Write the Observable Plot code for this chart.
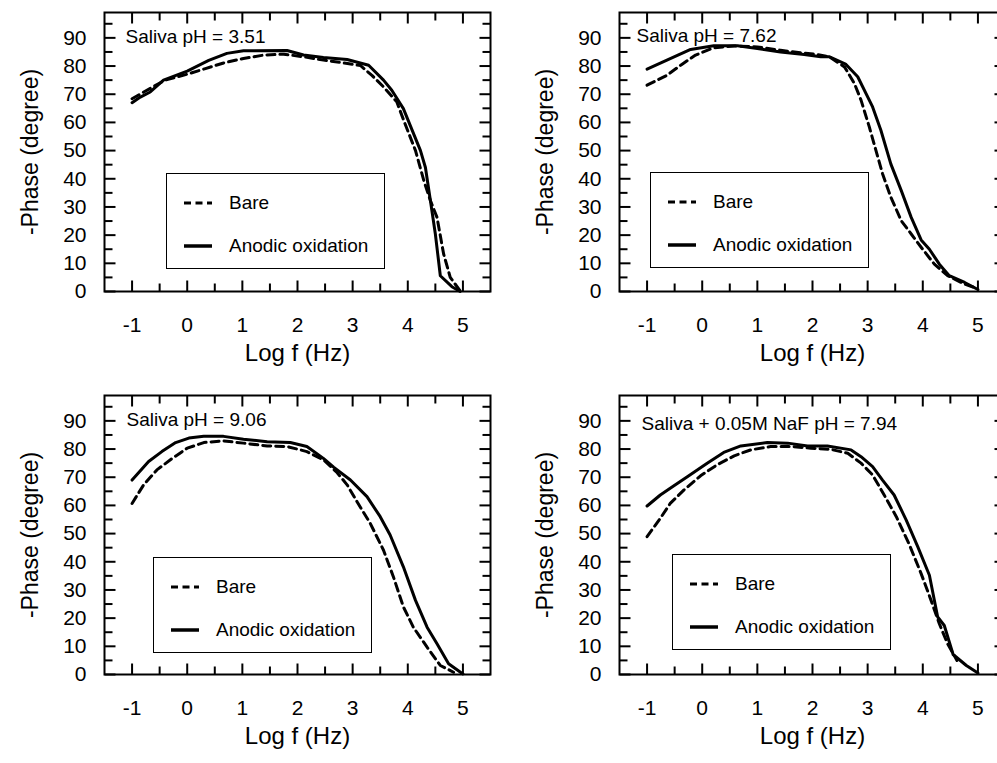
<!DOCTYPE html>
<html>
<head>
<meta charset="utf-8">
<script src="https://cdn.jsdelivr.net/npm/d3@7"></script>
<script src="https://cdn.jsdelivr.net/npm/@observablehq/plot@0.6"></script>
<style>
html, body { margin: 0; padding: 0; background: #fff; overflow: hidden; width: 997px; height: 763px; }
#root { position: relative; width: 997px; height: 763px; overflow: hidden; }
.panel { position: absolute; width: 515px; height: 382px; }
.panel svg { max-width: none !important; display: block; }
.legend { position: absolute; width: 219px; height: 96px; border: 1.5px solid #000; box-sizing: border-box; background: #fff;
  font-family: "Liberation Sans", Arial, sans-serif; font-size: 19px; color: #000; }
.legend .row { position: absolute; left: 0; height: 0; }
.legend .row svg { position: absolute; left: 17px; top: -4px; }
.legend .row span { position: absolute; left: 62px; top: -11px; white-space: nowrap; line-height: 22px; }
</style>
</head>
<body>
<div id="root"></div>
<script>
// ---- data ----
const xMajor = [-1, 0, 1, 2, 3, 4, 5];
const xMinor = [-0.5, 0.5, 1.5, 2.5, 3.5, 4.5];
const yMajor = [0, 10, 20, 30, 40, 50, 60, 70, 80, 90];
const yMinor = [5, 15, 25, 35, 45, 55, 65, 75, 85, 95];
const seriesNames = ["Bare", "Anodic oxidation"];
const panelTitles = ["Saliva pH = 3.51", "Saliva pH = 7.62", "Saliva pH = 9.06", "Saliva + 0.05M NaF pH = 7.94"];
const xTitle = "Log f (Hz)";
const yTitle = "-Phase (degree)";

// [log f, -phase]
const bare351 = [[-1,68.4],[-0.64,72.4],[-0.4,75],[0,77.1],[0.33,79.1],[0.66,81.1],[1.02,82.7],[1.39,83.9],[1.75,84.2],[2.11,83.3],[2.47,82.1],[2.84,81.1],[3.14,80.2],[3.35,76.7],[3.56,72.6],[3.8,67.3],[3.95,59.5],[4.14,50],[4.29,39.4],[4.41,32.3],[4.53,26.3],[4.65,13.3],[4.77,5],[4.95,0.2]];
const anodic351 = [[-1,67],[-0.85,69],[-0.67,70.8],[-0.43,75],[0,78.2],[0.39,82],[0.72,84.5],[1.02,85.4],[1.81,85.5],[2.11,83.9],[2.47,83],[2.9,82.3],[3.29,80.3],[3.56,75],[3.71,71.4],[3.92,64.9],[4.23,50],[4.32,44],[4.41,32.3],[4.5,20.4],[4.59,5.6],[4.8,1.7],[4.95,0]];

const bare762 = [[-1,73.2],[-0.64,76.7],[-0.39,80.3],[-0.12,83.9],[0.21,86.5],[0.58,87.1],[1,86.8],[1.42,85.6],[1.79,84.7],[2.09,84.1],[2.3,83.3],[2.58,79.7],[2.76,73.8],[2.88,67.9],[3.03,58.4],[3.15,50.1],[3.27,41.8],[3.42,33.5],[3.61,25.1],[3.79,20.4],[3.97,15.7],[4.21,9.7],[4.45,5.6],[4.76,2.6],[4.97,1.2]];
const anodic762 = [[-1,78.9],[-0.64,82.1],[-0.21,85.9],[0.21,87.2],[0.64,87.2],[1,86.2],[1.42,85],[1.85,84.1],[2.15,83.3],[2.3,83.3],[2.6,80.7],[2.82,76.2],[3.09,65.5],[3.24,57.2],[3.42,45.3],[3.61,35.8],[3.79,26.3],[3.97,18.3],[4.12,15],[4.3,9.7],[4.48,5.6],[4.76,3.2],[5,0.7]];

const bare906 = [[-1,60.7],[-0.79,67.3],[-0.55,72.6],[-0.27,76.7],[0,80.3],[0.3,82.3],[0.66,82.9],[1.02,82.1],[1.45,81.1],[1.81,80.9],[2.17,79.1],[2.47,76.2],[2.72,71.6],[2.9,67.3],[3.08,61.3],[3.32,53.6],[3.56,44.1],[3.74,34.6],[3.92,24],[4.1,16.8],[4.35,9.7],[4.59,3.2],[4.83,0.8]];
const anodic906 = [[-1,69],[-0.7,75.6],[-0.46,79.1],[-0.21,82.3],[0.03,83.9],[0.3,84.5],[0.66,84.5],[1.02,83.5],[1.45,82.6],[1.87,82.3],[2.17,80.9],[2.47,76.7],[2.66,73.5],[2.96,69],[3.26,63.1],[3.5,56],[3.68,49.5],[3.92,38.2],[4.14,26.3],[4.35,16.8],[4.53,10.9],[4.74,3.8],[5,0.2]];

const bare794 = [[-1,48.9],[-0.76,55.4],[-0.58,60.7],[-0.33,65.5],[-0.03,70.5],[0.27,74.4],[0.58,77.6],[0.88,79.7],[1.24,80.9],[1.61,80.9],[1.97,80.3],[2.33,79.9],[2.64,78.5],[2.88,75],[3.09,70.8],[3.3,63.7],[3.52,56],[3.76,45.9],[3.97,35.8],[4.15,26.3],[4.3,18],[4.45,10.9],[4.62,5]];
const anodic794 = [[-1,59.8],[-0.76,63.7],[-0.52,66.9],[-0.27,70.2],[0.09,75],[0.39,78.8],[0.7,81.1],[1.18,82.3],[1.55,82.1],[1.91,81.1],[2.27,81.1],[2.7,79.7],[2.88,77.3],[3.09,73.8],[3.27,69],[3.48,63.7],[3.7,54.8],[3.91,45.3],[4.12,35.2],[4.27,20.4],[4.39,17.4],[4.55,7.1],[4.79,3.2],[5,0.5]];

const panelSeries = [[bare351, anodic351], [bare762, anodic762], [bare906, anodic906], [bare794, anodic794]];

// ---- layout / style ----
const FONT = '"Liberation Sans", Arial, sans-serif';
const M = {left: 104, right: 25, top: 12, bottom: 91};
const W = 515, H = 382;
const xDomain = [-1.5, 5.5], yDomain = [0, 99];
const innerW = W - M.left - M.right, innerH = H - M.top - M.bottom;
// tick lengths (px) expressed in scale units so the ticks sit inside the frame
const kx = (xDomain[1] - xDomain[0]) / innerW, ky = (yDomain[1] - yDomain[0]) / innerH;
const MAJ = 11, MIN = 8;
const layout = [
  {left: 0,   top: 0,   legend: {left: 62, top: 161}, title: {dx: 21, dy: 24}},
  {left: 515, top: 0,   legend: {left: 31, top: 160}, title: {dx: 17, dy: 23}},
  {left: 0,   top: 383, legend: {left: 49, top: 162}, title: {dx: 22, dy: 24}},
  {left: 515, top: 383, legend: {left: 53, top: 159}, title: {dx: 22, dy: 28}}
];
const dash = "8,5";
const fmt = d => String(d);   // plain hyphen-minus, as in the reference

// inward tick polylines (two points each, grouped by id) built from the tick arrays
function tickPoints(xs, ys, len, tag) {
  const dy = len * ky, dx = len * kx, p = [];
  xs.forEach((x, j) => {
    p.push({id: tag + "b" + j, x, y: yDomain[0]}, {id: tag + "b" + j, x, y: yDomain[0] + dy});
    p.push({id: tag + "t" + j, x, y: yDomain[1]}, {id: tag + "t" + j, x, y: yDomain[1] - dy});
  });
  ys.forEach((y, j) => {
    p.push({id: tag + "l" + j, x: xDomain[0], y}, {id: tag + "l" + j, x: xDomain[0] + dx, y});
    p.push({id: tag + "r" + j, x: xDomain[1], y}, {id: tag + "r" + j, x: xDomain[1] - dx, y});
  });
  return p;
}
const tickPts = tickPoints(xMajor, yMajor, MAJ, "M").concat(tickPoints(xMinor, yMinor, MIN, "m"));

const root = document.getElementById("root");

layout.forEach((L, i) => {
  const [bare, anodic] = panelSeries[i];
  const chart = Plot.plot({
    width: W, height: H,
    marginLeft: M.left, marginRight: M.right, marginTop: M.top, marginBottom: M.bottom,
    style: {fontFamily: FONT, color: "#000", background: "transparent", maxWidth: "none"},
    x: {domain: xDomain},
    y: {domain: yDomain},
    marks: [
      Plot.line(tickPts, {x: "x", y: "y", z: "id", stroke: "#000", strokeWidth: 2, strokeLinecap: "butt"}),
      Plot.line(bare, {x: d => d[0], y: d => d[1], stroke: "#000", strokeWidth: 3, strokeDasharray: dash}),
      Plot.line(anodic, {x: d => d[0], y: d => d[1], stroke: "#000", strokeWidth: 3}),
      // tick labels
      Plot.axisX(xMajor, {anchor: "bottom", tickSize: 0, tickPadding: 26, fontSize: 21, label: null, fill: "#000", tickFormat: fmt}),
      Plot.axisY(yMajor, {anchor: "left", tickSize: 0, tickPadding: 18, fontSize: 21, label: null, fill: "#000", tickFormat: fmt}),
      Plot.frame({stroke: "#000", strokeWidth: 2}),
      // titles
      Plot.text([xTitle], {text: d => d, frameAnchor: "bottom", dy: 62, fontSize: 24, textAnchor: "middle", lineAnchor: "middle", fill: "#000"}),
      Plot.text([yTitle], {text: d => d, frameAnchor: "left", dx: -74, rotate: -90, fontSize: 23, textAnchor: "middle", lineAnchor: "middle", fill: "#000"}),
      Plot.text([panelTitles[i]], {text: d => d, frameAnchor: "top-left", dx: L.title.dx, dy: L.title.dy, textAnchor: "start", lineAnchor: "middle", fontSize: 19, fill: "#000"})
    ]
  });
  const panel = document.createElement("div");
  panel.className = "panel";
  panel.style.left = L.left + "px";
  panel.style.top = L.top + "px";
  panel.appendChild(chart);

  // legend box
  const lg = document.createElement("div");
  lg.className = "legend";
  lg.style.left = (M.left + L.legend.left) + "px";
  lg.style.top = (M.top + L.legend.top) + "px";
  const rowsY = [29, 72];
  seriesNames.forEach((name, k) => {
    const row = document.createElement("div");
    row.className = "row";
    row.style.top = rowsY[k] + "px";
    const svgNS = "http://www.w3.org/2000/svg";
    const s = document.createElementNS(svgNS, "svg");
    s.setAttribute("width", "30"); s.setAttribute("height", "8");
    const ln = document.createElementNS(svgNS, "line");
    ln.setAttribute("x1", "0"); ln.setAttribute("x2", "28");
    ln.setAttribute("y1", "4"); ln.setAttribute("y2", "4");
    ln.setAttribute("stroke", "#000");
    ln.setAttribute("stroke-width", k === 0 ? "3" : "3.5");
    if (k === 0) ln.setAttribute("stroke-dasharray", "7,4.5");
    s.appendChild(ln);
    const sp = document.createElement("span");
    sp.textContent = name;
    row.appendChild(s); row.appendChild(sp);
    lg.appendChild(row);
  });
  panel.appendChild(lg);
  root.appendChild(panel);
});
</script>
</body>
</html>
